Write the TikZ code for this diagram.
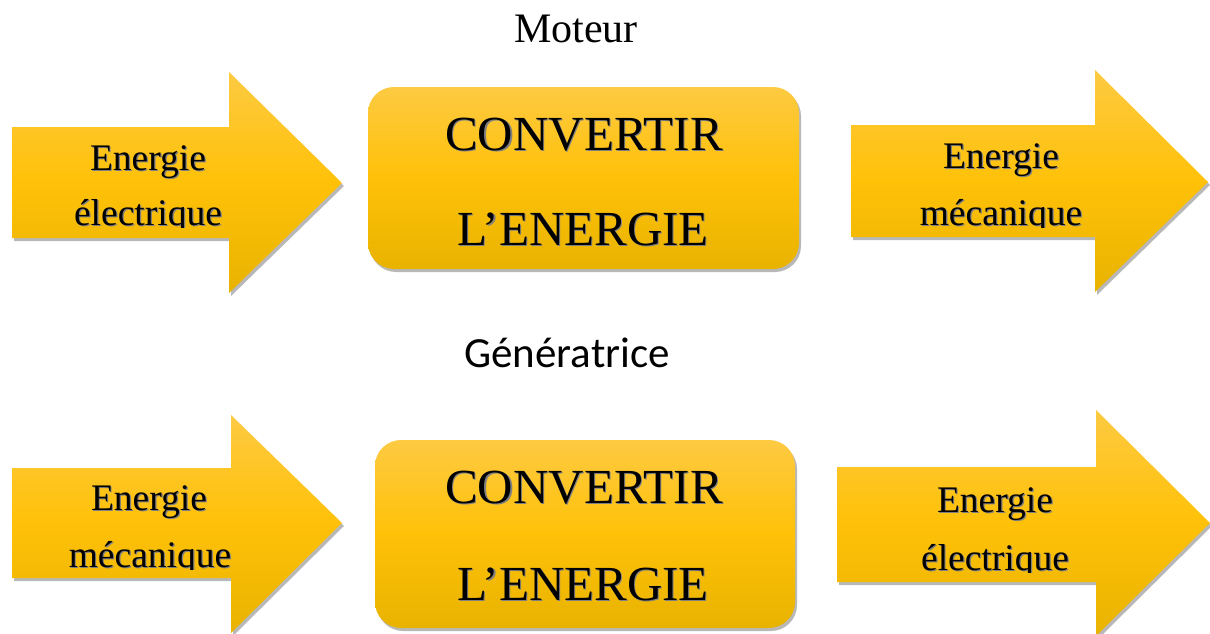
\documentclass[tikz,border=0pt]{standalone}
\usepackage{fontspec}
\setmainfont{Liberation Serif}
\newfontfamily\labelsans{Carlito}
\usetikzlibrary{shadows}

\definecolor{goldtop}{RGB}{253,202,66}
\definecolor{goldmid}{RGB}{255,193,8}
\definecolor{goldbot}{RGB}{232,179,0}

% text with a soft offset shadow behind it
\newcommand{\shadowed}[1]{\makebox[0pt][l]{\hspace{1.2pt}\raisebox{-1.4pt}{\color{black!50}#1}}#1}

\tikzset{
  gold/.style={top color=goldtop, bottom color=goldbot, middle color=goldmid,
    draw=none,
    drop shadow={shadow xshift=2pt, shadow yshift=-3pt, opacity=0.28, fill=black}},
  convbox/.style={gold, rounded corners=26pt, inner sep=0pt},
  arrowtext/.style={anchor=base, inner sep=0pt,
    font=\fontsize{37.5}{40}\selectfont},
  boxtext/.style={anchor=base, inner sep=0pt,
    font=\fontsize{49}{52}\selectfont},
  title/.style={anchor=base, inner sep=0pt}
}

\begin{document}
\begin{tikzpicture}[x=1pt, y=-1pt]
\useasboundingbox (0,0) rectangle (1210,634);

% ---------- Moteur ----------
\node[title, font=\fontsize{42}{44}\selectfont] (tmot) at (576,43) {Moteur};

\path[gold] (12,127) -- (229,127) -- (229,72) -- (342,183) -- (229,293)
  -- (229,238) -- (12,238) -- cycle;
\begin{scope}
  \clip (12,100) rectangle (229,227);
  \node[arrowtext] (m1a) at (148,170) {\shadowed{Energie}};
  \node[arrowtext] (m1b) at (148,225) {\shadowed{électrique}};
\end{scope}

\node[convbox, minimum width=431pt, minimum height=182pt] (mbox) at (583.5,178) {};
\node[boxtext] (mc1) at (584,150) {\shadowed{CONVERTIR}};
\node[boxtext] (mc2) at (583,245) {\shadowed{L’ENERGIE}};

\path[gold] (851,125) -- (1095,125) -- (1095,70) -- (1208,182) -- (1095,292)
  -- (1095,237) -- (851,237) -- cycle;
\begin{scope}
  \clip (851,100) rectangle (1095,227);
  \node[arrowtext] (m2a) at (1001,168) {\shadowed{Energie}};
  \node[arrowtext] (m2b) at (1001,225) {\shadowed{mécanique}};
\end{scope}

% ---------- Génératrice ----------
\node[title, font=\labelsans\fontsize{43}{46}\selectfont] (tgen) at (567,367) {Génératrice};

\path[gold] (12,468) -- (231,468) -- (231,415) -- (342,523) -- (231,633)
  -- (231,578) -- (12,578) -- cycle;
\begin{scope}
  \clip (12,440) rectangle (231,569);
  \node[arrowtext] (g1a) at (149,510) {\shadowed{Energie}};
  \node[arrowtext] (g1b) at (150,567) {\shadowed{mécanique}};
\end{scope}

\node[convbox, minimum width=420pt, minimum height=188pt] (gbox) at (585,534) {};
\node[boxtext] (gc1) at (584,503) {\shadowed{CONVERTIR}};
\node[boxtext] (gc2) at (583,600) {\shadowed{L’ENERGIE}};

\path[gold] (837,467) -- (1096,467) -- (1096,410) -- (1210,523) -- (1096,636)
  -- (1096,582) -- (837,582) -- cycle;
\begin{scope}
  \clip (837,440) rectangle (1096,572);
  \node[arrowtext] (g2a) at (995,512) {\shadowed{Energie}};
  \node[arrowtext] (g2b) at (995,570) {\shadowed{électrique}};
\end{scope}
\end{tikzpicture}
\end{document}
